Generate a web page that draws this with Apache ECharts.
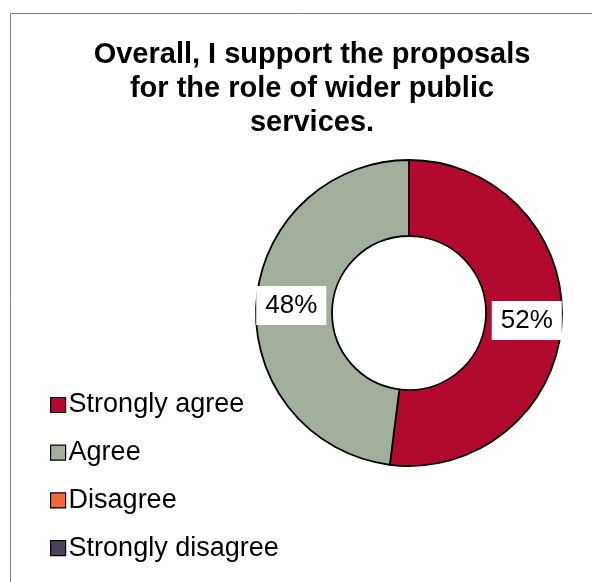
<!DOCTYPE html>
<html><head><meta charset="utf-8">
<script src="https://cdn.jsdelivr.net/npm/echarts@6/dist/echarts.min.js"></script>
<style>html,body{margin:0;padding:0;background:#fff}#c{width:592px;height:582px}</style>
</head><body><div id="c"></div>
<script>
const categories = ["Strongly agree", "Agree", "Disagree", "Strongly disagree"];
const values = [52, 48, 0, 0];
const colors = ["#B20A2F", "#A3AF9D", "#F5683A", "#4E3F5C"];
const titleText = "Overall, I support the proposals\nfor the role of wider public\nservices.";

const chart = echarts.init(document.getElementById('c'));
const data = categories.map((n, i) => ({
  name: n, value: values[i],
  itemStyle: { color: colors[i], borderColor: '#000', borderWidth: values[i] > 0 ? 1.8 : 0 },
  label: { show: values[i] > 0 }
}));
chart.setOption({
  animation: false,
  graphic: [{ type: 'rect', shape: { x: 10.5, y: 13.5, width: 700, height: 700 },
    style: { fill: 'none', stroke: '#808080', lineWidth: 1 }, z: 0 }],
  title: {
    text: titleText, left: 307, top: 33, textAlign: 'center',
    textStyle: { fontFamily: 'Liberation Sans, Arial, sans-serif', fontWeight: 'bold', fontSize: 29, lineHeight: 34, color: '#000' }
  },
  legend: {
    orient: 'vertical', left: 45, top: 385, itemWidth: 15, itemHeight: 15, itemGap: 17.7,
    icon: 'rect',
    itemStyle: { borderColor: '#000', borderWidth: 1.2 },
    textStyle: { fontFamily: 'Liberation Sans, Arial, sans-serif', fontSize: 27, color: '#000', lineHeight: 30, padding: [0,0,0,-2] },
    data: categories
  },
  series: [{
    type: 'pie', center: [409, 313], radius: [77, 153], startAngle: 90, clockwise: true,
    avoidLabelOverlap: false, stillShowZeroSum: true,
    label: {
      position: 'inside', formatter: p => p.value + '%',
      fontFamily: 'Liberation Sans, Arial, sans-serif', fontSize: 26, lineHeight: 27, color: '#000',
      backgroundColor: '#fff', padding: [6, 9]
    },
    labelLine: { show: false },
    emphasis: { disabled: true },
    data: data
  }]
});
</script></body></html>
